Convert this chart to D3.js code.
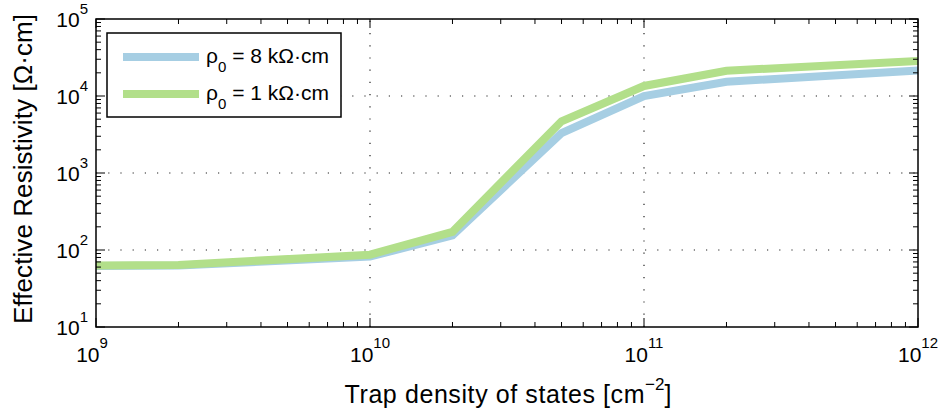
<!DOCTYPE html>
<html>
<head>
<meta charset="utf-8">
<script src="https://cdn.jsdelivr.net/npm/d3@7"></script>
<style>
  body { margin: 0; background: #fff; }
  text { font-family: "Liberation Sans", Arial, sans-serif; fill: #000; }
</style>
</head>
<body>
<svg id="chart" width="944" height="416"></svg>
<script>
// data
const trapDensity = [1e9, 2e9, 1e10, 2e10, 5e10, 1e11, 2e11, 1e12];
const rho8k = [62, 63, 82, 155, 3300, 10000, 15300, 21500];
const rho1k = [63, 64, 87, 172, 4700, 13500, 21300, 28500];
const seriesNames = ["8", "1"];
const xTickExps = [9, 10, 11, 12];
const yTickExps = [1, 2, 3, 4, 5];

const svg = d3.select("#chart");
const plotL = 96, plotR = 918, plotT = 19, plotB = 327;

const x = d3.scaleLog().domain([1e9, 1e12]).range([plotL, plotR]);
const y = d3.scaleLog().domain([1e1, 1e5]).range([plotB, plotT]);

// grid
const grid = svg.append("g").attr("class", "grid")
  .attr("stroke", "#222").attr("stroke-width", 1.2)
  .attr("stroke-dasharray", "1.2,11");
grid.selectAll(".gx").data(xTickExps.slice(1, -1)).enter()
  .append("line")
  .attr("x1", d => x(Math.pow(10, d))).attr("x2", d => x(Math.pow(10, d)))
  .attr("y1", plotB).attr("y2", plotT);
grid.selectAll(".gy").data(yTickExps.slice(1, -1)).enter()
  .append("line")
  .attr("y1", d => y(Math.pow(10, d))).attr("y2", d => y(Math.pow(10, d)))
  .attr("x1", plotL).attr("x2", plotR);

// lines
const line = d3.line().x(d => x(d[0])).y(d => y(d[1]));
const series = [
  { name: seriesNames[0], values: rho8k, color: "#a6cee3" },
  { name: seriesNames[1], values: rho1k, color: "#b2df8a" }
];
svg.append("g").selectAll("path").data(series).enter()
  .append("path")
  .attr("fill", "none")
  .attr("stroke", d => d.color)
  .attr("stroke-width", 8)
  .attr("stroke-linejoin", "miter")
  .attr("d", d => line(trapDensity.map((t, i) => [t, d.values[i]])));

// axes box and inner ticks
const box = svg.append("g").attr("stroke", "#000").attr("fill", "none");
box.append("rect")
  .attr("x", plotL).attr("y", plotT)
  .attr("width", plotR - plotL).attr("height", plotB - plotT)
  .attr("stroke-width", 1.5);

const xMinor = [], yMinor = [];
for (let e = 9; e < 12; e++) for (let m = 2; m <= 9; m++) xMinor.push(m * Math.pow(10, e));
for (let e = 1; e < 5; e++) for (let m = 2; m <= 9; m++) yMinor.push(m * Math.pow(10, e));
const xMajor = xTickExps.map(e => Math.pow(10, e));
const yMajor = yTickExps.map(e => Math.pow(10, e));

function xTicks(vals, len) {
  vals.forEach(v => {
    box.append("line").attr("x1", x(v)).attr("x2", x(v)).attr("y1", plotB).attr("y2", plotB - len);
    box.append("line").attr("x1", x(v)).attr("x2", x(v)).attr("y1", plotT).attr("y2", plotT + len);
  });
}
function yTicks(vals, len) {
  vals.forEach(v => {
    box.append("line").attr("y1", y(v)).attr("y2", y(v)).attr("x1", plotL).attr("x2", plotL + len);
    box.append("line").attr("y1", y(v)).attr("y2", y(v)).attr("x1", plotR).attr("x2", plotR - len);
  });
}
xTicks(xMinor, 5); xTicks(xMajor, 9);
yTicks(yMinor, 5); yTicks(yMajor, 9);

// tick labels
const xl = svg.append("g").selectAll("text").data(xTickExps).enter()
  .append("text")
  .attr("x", d => x(Math.pow(10, d)) - (d === 9 ? 4 : 0))
  .attr("y", 362)
  .attr("text-anchor", "middle")
  .attr("font-size", 21);
xl.append("tspan").text("10");
xl.append("tspan").attr("dy", -14).attr("font-size", 15).text(d => d);

const yl = svg.append("g").selectAll("text").data(yTickExps).enter()
  .append("text")
  .attr("x", 88)
  .attr("y", d => y(Math.pow(10, d)) + 8)
  .attr("text-anchor", "end")
  .attr("font-size", 21);
yl.append("tspan").text("10");
yl.append("tspan").attr("dy", -13).attr("font-size", 15).text(d => d);

// axis titles
const xt = svg.append("text")
  .attr("x", 508).attr("y", 403)
  .attr("text-anchor", "middle")
  .attr("font-size", 25);
xt.append("tspan").attr("textLength", 300).attr("lengthAdjust", "spacing")
  .text("Trap density of states [cm");
xt.append("tspan").attr("dy", -13).attr("font-size", 17).text("\u22122");
xt.append("tspan").attr("dy", 13).text("]");

svg.append("text")
  .attr("transform", "translate(32,169) rotate(-90)")
  .attr("text-anchor", "middle")
  .attr("font-size", 26)
  .attr("textLength", 310)
  .attr("lengthAdjust", "spacing")
  .text("Effective Resistivity [\u03A9\u00B7cm]");

// legend
const lg = svg.append("g");
lg.append("rect")
  .attr("x", 107).attr("y", 33).attr("width", 234).attr("height", 84)
  .attr("fill", "#fff").attr("stroke", "#000").attr("stroke-width", 1.5);
series.forEach((s, i) => {
  const ly = 57 + i * 37;
  lg.append("line")
    .attr("x1", 123).attr("x2", 199).attr("y1", ly).attr("y2", ly)
    .attr("stroke", s.color).attr("stroke-width", 8);
  const t = lg.append("text").attr("x", 206).attr("y", ly + 6).attr("font-size", 21);
  t.append("tspan").text("\u03C1");
  t.append("tspan").attr("dy", 9).attr("font-size", 15).text("0");
  t.append("tspan").attr("dy", -9).text(" = " + s.name + " k\u03A9\u00B7cm");
});
</script>
</body>
</html>
